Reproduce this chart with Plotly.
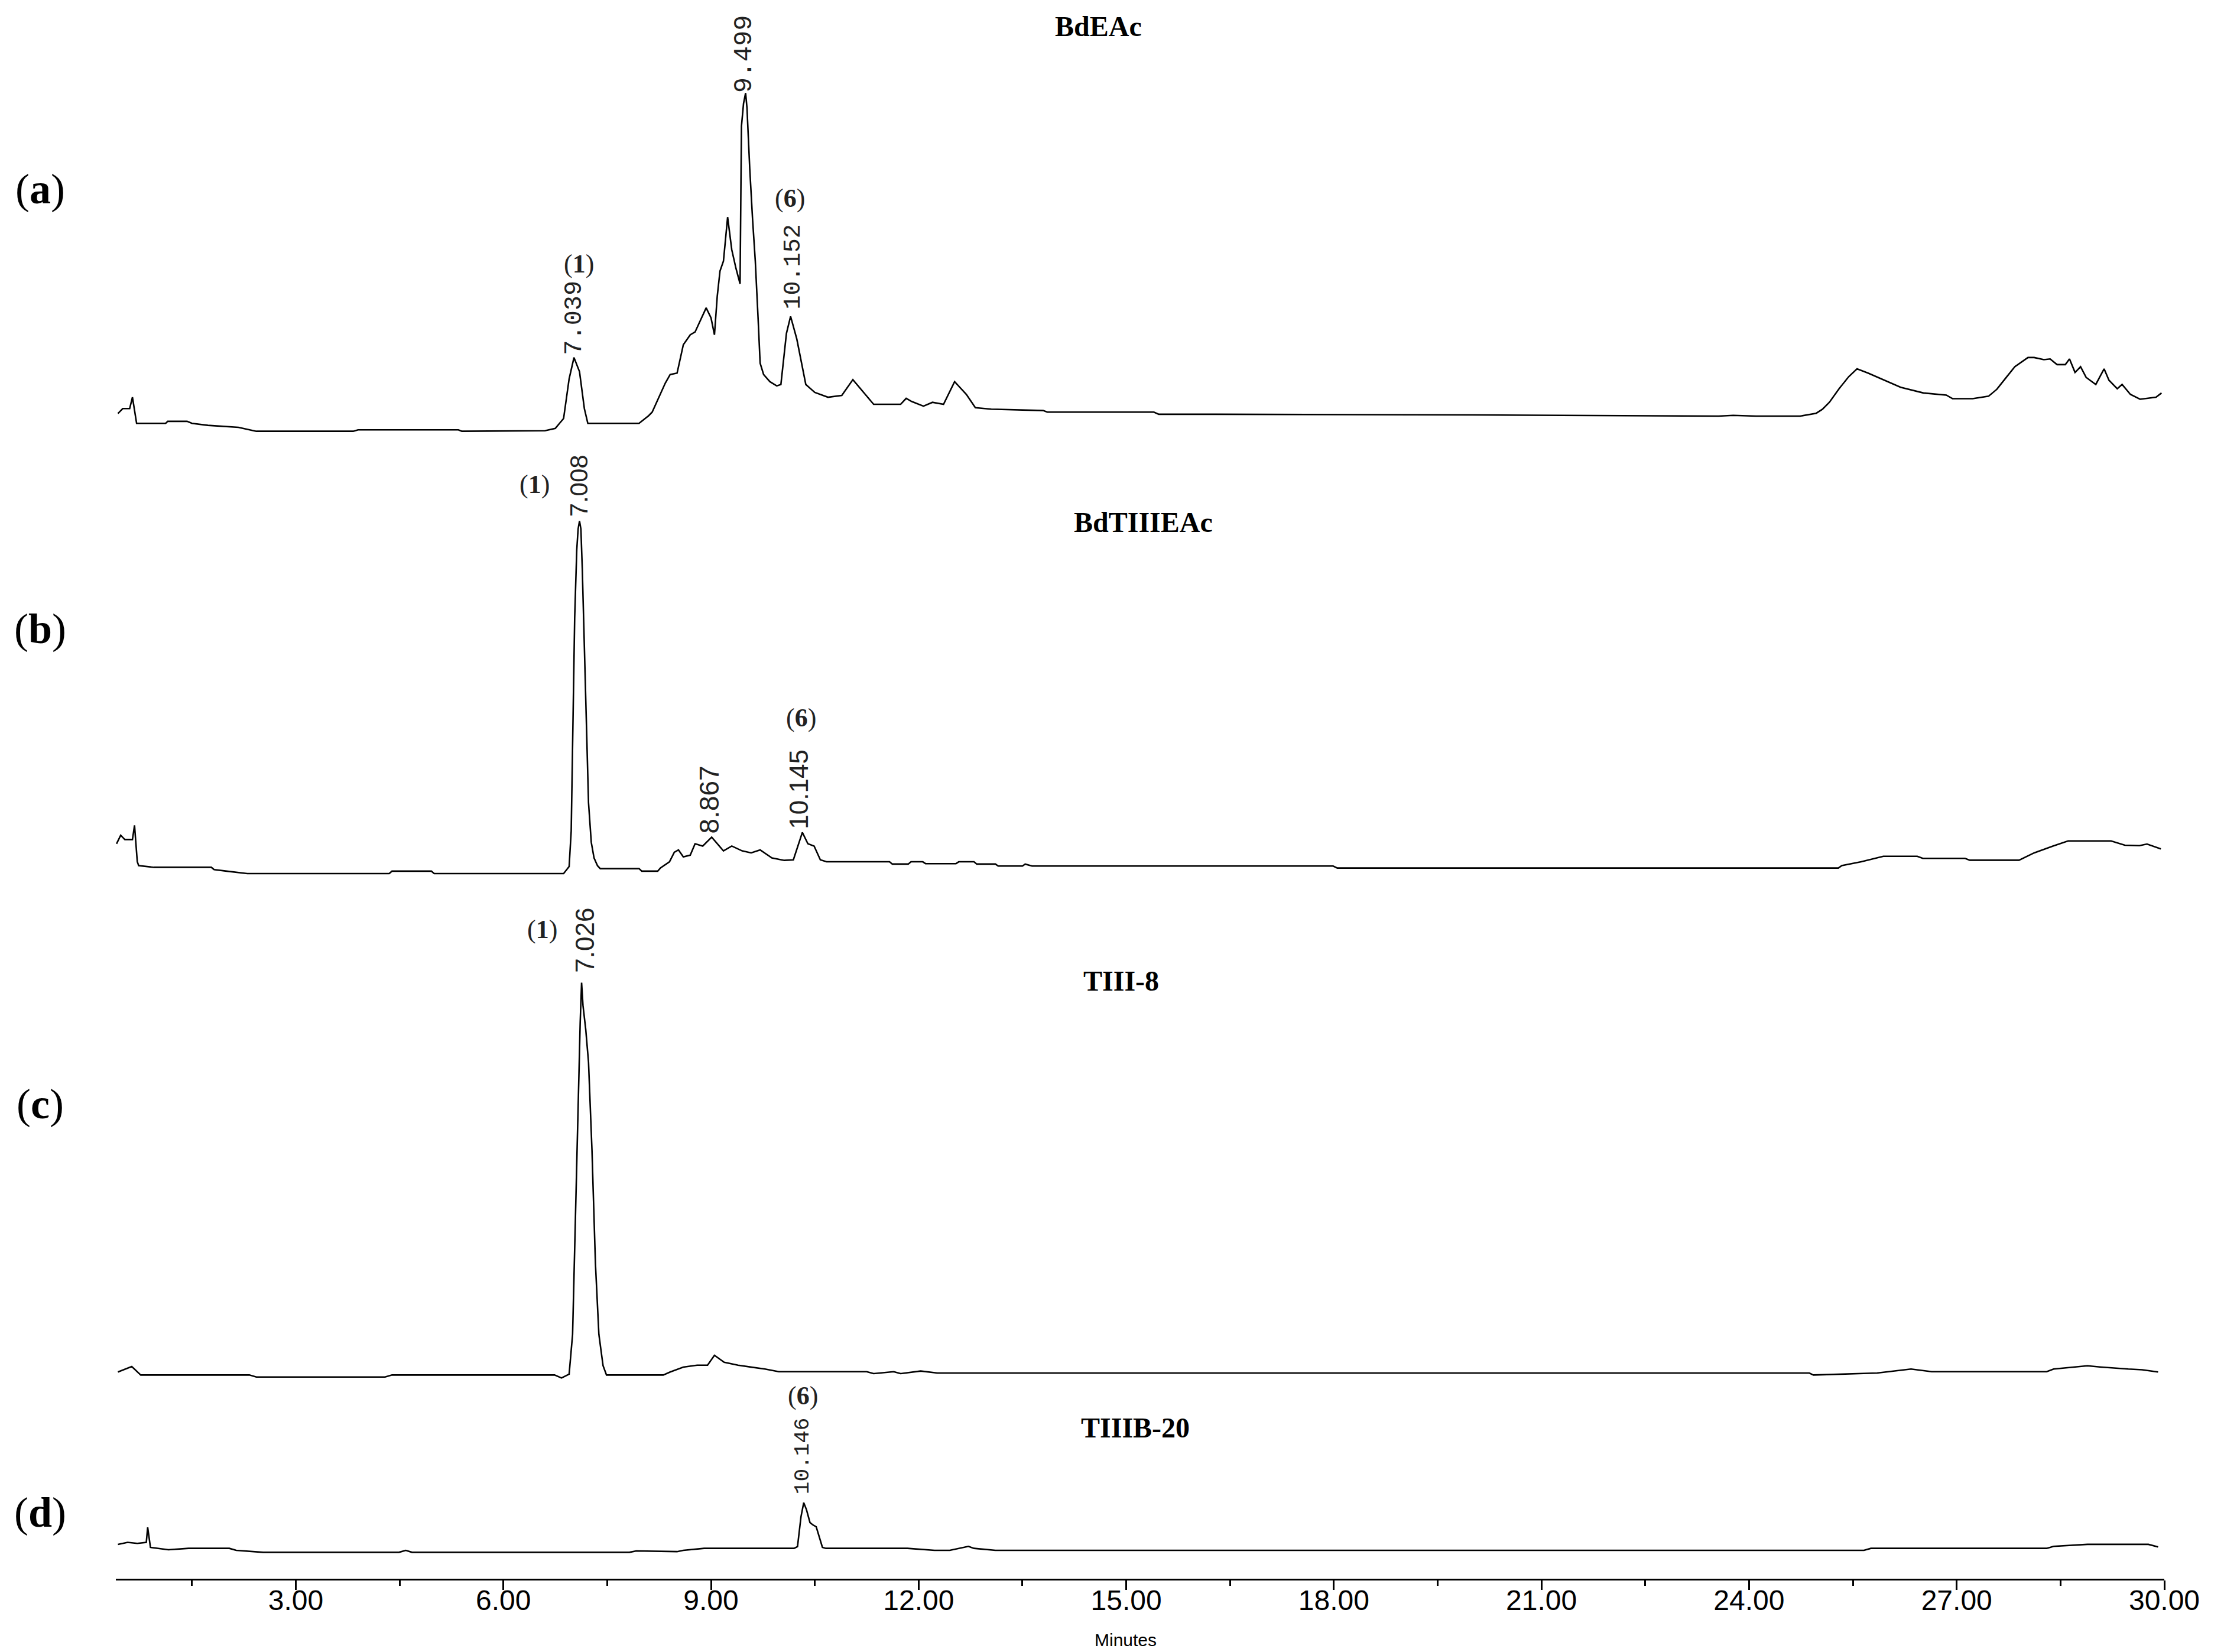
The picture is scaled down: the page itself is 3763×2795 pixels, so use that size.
import plotly.graph_objects as go

# ---------------- data (retention time in minutes, detector signal in arbitrary units) ----------------
time_a = [0.43, 0.50, 0.60, 0.64, 0.70, 1.12, 1.15, 1.43, 1.50, 1.73, 2.17, 2.43, 3.83, 3.90, 5.35, 5.40,
          6.60, 6.75, 6.87, 6.95, 7.02, 7.10, 7.17, 7.22, 7.96, 8.10, 8.15, 8.34, 8.41, 8.51, 8.60, 8.70,
          8.77, 8.93, 9.00, 9.05, 9.09, 9.13, 9.18, 9.24, 9.30, 9.36, 9.42, 9.44, 9.47, 9.50, 9.52, 9.56,
          9.60, 9.64, 9.68, 9.71, 9.76, 9.85, 9.95, 10.01, 10.05, 10.09, 10.15, 10.24, 10.37, 10.50, 10.69,
          10.89, 11.05, 11.18, 11.35, 11.74, 11.82, 11.90, 12.07, 12.20, 12.36, 12.52, 12.69, 12.82, 13.05,
          13.80, 13.86, 15.40, 15.47, 16.30, 20.00, 23.56, 23.77, 24.10, 24.74, 24.97, 25.06, 25.16, 25.30,
          25.44, 25.56, 25.72, 25.96, 26.19, 26.52, 26.85, 26.94, 27.23, 27.46, 27.58, 27.70, 27.84, 28.03,
          28.12, 28.26, 28.35, 28.45, 28.57, 28.63, 28.71, 28.79, 28.87, 29.01, 29.13, 29.20, 29.32, 29.39,
          29.51, 29.65, 29.88, 29.96]
signal_a = [12.5, 16, 16, 24, 5.6, 5.6, 7, 7, 5.6, 4.2, 2.8, 0, 0, 1, 1, 0,
            0.4, 2, 9, 37, 52, 42, 16, 5.6, 5.6, 11, 13.5, 34, 40, 41, 61, 68,
            70, 87, 80, 68, 95, 113, 120, 151, 128, 115, 104, 215, 231, 238.5, 228, 185,
            150, 120, 80, 48, 40, 35, 32, 33, 51, 69, 81, 65, 33, 27.4, 24,
            25.3, 36.4, 28.8, 19, 19, 23.2, 21, 17.7, 20.4, 19, 35, 26, 16.6, 15.6,
            14.6, 13.5, 13.5, 12, 12, 11.5, 10.7, 11.2, 10.7, 10.7, 12.7, 15.5, 20.4, 30,
            38.5, 44, 41, 36, 31, 27, 25.5, 23, 23, 24.7, 29.6, 37, 45.5, 52,
            52, 50.5, 51, 47, 47, 51, 41.5, 45.5, 38, 33, 44, 36, 30, 33,
            26, 22.6, 24, 27]

time_b = [0.41, 0.47, 0.53, 0.64, 0.67, 0.71, 0.73, 0.95, 1.78, 1.82, 2.00, 2.30, 4.35, 4.39, 4.96, 5.00,
          6.87, 6.95, 6.98, 7.01, 7.03, 7.06, 7.08, 7.10, 7.12, 7.14, 7.17, 7.20, 7.23, 7.27, 7.31, 7.36,
          7.40, 7.96, 8.00, 8.23, 8.27, 8.40, 8.47, 8.53, 8.60, 8.70, 8.77, 8.88, 9.01, 9.18, 9.30, 9.45,
          9.58, 9.71, 9.88, 10.06, 10.19, 10.32, 10.40, 10.49, 10.58, 10.67, 11.58, 11.62, 11.85, 11.89,
          12.06, 12.10, 12.54, 12.58, 12.80, 12.84, 13.11, 13.15, 13.50, 13.54, 13.64, 17.99, 18.05, 25.29,
          25.34, 25.62, 25.94, 26.43, 26.51, 27.12, 27.19, 27.90, 28.12, 28.39, 28.61, 29.23, 29.43, 29.64,
          29.75, 29.95]
signal_b = [21, 27, 24, 24, 34, 8.3, 5.6, 4.4, 4.4, 2.8, 1.7, 0, 0, 1.7, 1.7, 0,
            0, 5, 30, 110, 180, 228, 243, 248.5, 243, 215, 160, 100, 50, 22, 11, 5.5,
            3.5, 3.5, 1.7, 1.7, 4, 8.3, 15, 16.7, 11.8, 13, 21, 19.4, 25.7, 16, 19.4, 16,
            14.6, 16.7, 11, 9.3, 9.7, 29, 21, 19.4, 9.7, 8.3, 8.3, 6.7, 6.7, 8.3,
            8.3, 7, 7, 8.3, 8.3, 6.7, 6.7, 5.3, 5.3, 6.7, 5.3, 5.3, 3.9, 3.9,
            5.6, 8.3, 12.2, 12.2, 10.7, 10.7, 9.4, 9.4, 14.6, 19.4, 23, 23, 20, 19.7,
            20.8, 17.4]

time_c = [0.43, 0.63, 0.76, 2.33, 2.43, 4.29, 4.39, 6.74, 6.84, 6.95, 7.00, 7.04, 7.08, 7.11, 7.13, 7.15,
          7.19, 7.23, 7.28, 7.33, 7.38, 7.44, 7.49, 8.31, 8.41, 8.60, 8.80, 8.95, 9.05, 9.19, 9.39, 9.58,
          9.78, 9.98, 11.25, 11.35, 11.64, 11.74, 12.03, 12.27, 24.87, 24.93, 25.85, 26.34, 26.64, 28.30,
          28.40, 28.89, 29.09, 29.48, 29.68, 29.91]
signal_c = [3.5, 7.4, 1.4, 1.4, 0, 0, 1.4, 1.4, -0.7, 2, 30, 110, 200, 250, 278, 262,
            245, 222, 160, 80, 30, 8, 1.4, 1.4, 3.5, 7, 8.3, 8.3, 15.3, 10.4, 8.3, 7,
            5.6, 3.75, 3.75, 2.4, 3.75, 2.4, 4.2, 2.8, 2.8, 1.4, 2.8, 5.6, 3.75, 3.75,
            5.6, 7.9, 7, 5.6, 5.1, 3.5]

time_d = [0.43, 0.57, 0.71, 0.84, 0.86, 0.90, 1.16, 1.45, 2.04, 2.14, 2.53, 4.49, 4.59, 4.68, 7.82, 7.92,
          8.51, 8.60, 8.90, 10.20, 10.25, 10.30, 10.34, 10.38, 10.43, 10.47, 10.52, 10.57, 10.61, 10.66,
          11.84, 12.23, 12.45, 12.72, 12.80, 13.11, 25.66, 25.76, 28.30, 28.40, 28.89, 29.77, 29.91]
signal_d = [5.6, 7, 6.3, 7, 17.6, 3.5, 1.8, 2.8, 2.8, 1.4, 0, 0, 1.4, 0, 0, 1,
            0.5, 1.4, 2.8, 2.8, 4, 25, 35, 30, 21, 19.4, 18, 10, 3.5, 2.8,
            2.8, 1.4, 1.4, 4.2, 2.8, 1.4, 1.4, 2.8, 2.8, 4.2, 5.6, 5.6, 3.75]

sample_names = ["BdEAc", "BdTIIIEAc", "TIII-8", "TIIIB-20"]
panel_letters = ["a", "b", "c", "d"]

# peak retention-time labels: (panel, text)
rt_labels = [("a", "9.499"), ("a", "7.039"), ("a", "10.152"),
             ("b", "7.008"), ("b", "8.867"), ("b", "10.145"),
             ("c", "7.026"),
             ("d", "10.146")]
# compound labels: (panel, text)
compound_labels = [("a", "1"), ("a", "6"), ("b", "1"), ("b", "6"), ("c", "1"), ("d", "6")]

tick_values = [3, 6, 9, 12, 15, 18, 21, 24, 27, 30]
tick_text = ["3.00", "6.00", "9.00", "12.00", "15.00", "18.00", "21.00", "24.00", "27.00", "30.00"]

# ---------------- layout / style ----------------
Y_TOP = 1109.6
offsets = {"a": 808.9, "b": 497.1, "c": 142.2, "d": 18.6}

# placement of labels (x in minutes, y in plot units)
rt_pos = {("a", "9.499"): (9.48, 1075), ("a", "7.039"): (7.03, 889),
          ("a", "10.152"): (10.19, 925),
          ("b", "7.008"): (7.09, 770.4), ("b", "8.867"): (8.97, 549.2), ("b", "10.145"): (10.27, 556.7),
          ("c", "7.026"): (7.17, 450),
          ("d", "10.146"): (10.33, 86.5)}
rt_size = {("a", "9.499"): 44, ("a", "7.039"): 42, ("a", "10.152"): 40,
           ("b", "7.008"): 42, ("b", "8.867"): 46, ("b", "10.145"): 44,
           ("c", "7.026"): 44, ("d", "10.146"): 36}
rt_font = {"a": "Liberation Mono, Courier New, monospace", "b": "Liberation Sans, Arial, sans-serif",
           "c": "Liberation Sans, Arial, sans-serif", "d": "Liberation Mono, Courier New, monospace"}
comp_pos = {("a", "1"): (7.09, 926.7), ("a", "6"): (10.14, 973), ("b", "1"): (6.45, 771.3),
            ("b", "6"): (10.30, 606.7), ("c", "1"): (6.56, 457.9), ("d", "6"): (10.33, 128.8)}
name_pos = [(14.60, 1094.2), (15.25, 744.6), (14.93, 421.6), (15.13, 106.6)]
letter_y = [979.6, 669.6, 334.6, 46.7]

W, H = 3763, 2795
ML, MR, MT, MB = 188, 109, 0, 132

fig = go.Figure()
series = [(time_a, signal_a, "a"), (time_b, signal_b, "b"), (time_c, signal_c, "c"), (time_d, signal_d, "d")]
for t, s, p in series:
    fig.add_trace(go.Scatter(x=t, y=[v + offsets[p] for v in s], mode="lines",
                             line=dict(color="black", width=2.6), hoverinfo="skip", showlegend=False))

ann = []
serif = "Liberation Serif, Times New Roman, serif"
for key, txt in rt_labels:
    x, y = rt_pos[(key, txt)]
    ann.append(dict(x=x, y=y, xref="x", yref="y", text=txt, showarrow=False, textangle=-90,
                    xanchor="center", yanchor="middle",
                    font=dict(family=rt_font[key], size=rt_size[(key, txt)], color="#222")))
for key, txt in compound_labels:
    x, y = comp_pos[(key, txt)]
    ann.append(dict(x=x, y=y, xref="x", yref="y", text="(<b>" + txt + "</b>)", showarrow=False,
                    xanchor="center", yanchor="middle", font=dict(family=serif, size=44, color="#222")))
for (x, y), name in zip(name_pos, sample_names):
    ann.append(dict(x=x, y=y, xref="x", yref="y", text="<b>" + name + "</b>", showarrow=False,
                    xanchor="center", yanchor="middle", font=dict(family=serif, size=48, color="black")))
plot_w = W - ML - MR
for yv, letter in zip(letter_y, panel_letters):
    ann.append(dict(x=(60 - ML) / plot_w, y=yv / Y_TOP, xref="paper", yref="paper",
                    text="(<b>" + letter + "</b>)", showarrow=False, xanchor="center", yanchor="middle",
                    font=dict(family=serif, size=72, color="black")))
ann.append(dict(x=(1896 - ML) / plot_w, y=-(2766 - (H - MB)) / (H - MB), xref="paper", yref="paper",
                text="Minutes", showarrow=False, xanchor="center", yanchor="middle",
                font=dict(family="Liberation Sans, Arial, sans-serif", size=30, color="black")))

fig.update_layout(
    width=W, height=H, margin=dict(l=ML, r=MR, t=MT, b=MB, pad=0),
    paper_bgcolor="white", plot_bgcolor="white", showlegend=False,
    annotations=ann,
    xaxis=dict(range=[0.4, 30.0], showgrid=False, zeroline=False, showline=True, linecolor="black",
               linewidth=3, ticks="outside", ticklen=16, tickwidth=3, tickcolor="black",
               tickvals=tick_values, ticktext=tick_text, ticklabelstandoff=-24,
               tickfont=dict(family="Liberation Sans Narrow, Arial Narrow, Liberation Sans, sans-serif",
                             size=48, color="black"),
               minor=dict(tickvals=[1.5, 4.5, 7.5, 10.5, 13.5, 16.5, 19.5, 22.5, 25.5, 28.5],
                          ticks="outside", ticklen=9, tickwidth=3, tickcolor="black", showgrid=False)),
    yaxis=dict(range=[0, Y_TOP], visible=False, showgrid=False, zeroline=False),
)

fig.write_html("out.html")
